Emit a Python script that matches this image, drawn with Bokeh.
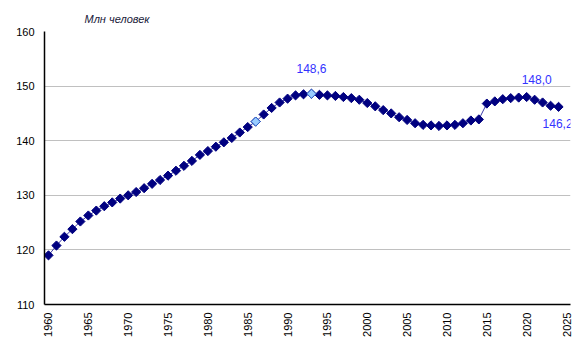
import math
from bokeh.plotting import figure
from bokeh.models import Range1d, FixedTicker, ColumnDataSource
from bokeh.core.properties import value
from bokeh.embed import file_html
from bokeh.resources import INLINE

years = list(range(1960, 2025))
population = [
    119.0, 120.8, 122.4, 123.8, 125.2, 126.3, 127.2, 128.0, 128.7, 129.4,
    130.0, 130.6, 131.3, 132.1, 132.8, 133.6, 134.5, 135.4, 136.3, 137.4,
    138.1, 138.9, 139.7, 140.5, 141.5, 142.5, 143.5, 144.8, 146.0, 147.0,
    147.7, 148.3, 148.5, 148.6, 148.4, 148.3, 148.2, 148.0, 147.8, 147.5,
    146.9, 146.3, 145.6, 145.0, 144.3, 143.8, 143.2, 142.9, 142.8, 142.7,
    142.8, 142.9, 143.2, 143.7, 143.9, 146.8, 147.2, 147.6, 147.8, 147.9,
    148.0, 147.5, 147.0, 146.4, 146.2,
]
highlight_years = [1986, 1993]
label_years = [1993, 2020, 2024]
label_texts = ["148,6", "148,0", "146,2"]
label_dx = [0, 10, -1]
label_dy = [-25, -18, 17]
y_ticks = [110, 120, 130, 140, 150, 160]
x_ticks = list(range(1960, 2030, 5))

FONT = "Liberation Sans"

p = figure(width=575, height=351, output_backend="svg", toolbar_location=None,
           x_range=Range1d(1959.5, 2025.5), y_range=Range1d(110, 160),
           min_border_left=44, min_border_right=5, min_border_top=31,
           min_border_bottom=47)
p.outline_line_color = None
p.background_fill_color = "white"

p.title.text = "Млн человек"
p.title.align = "left"
p.title.offset = 40
p.title.standoff = 13
p.title.text_font = FONT
p.title.text_font_style = "italic"
p.title.text_font_size = "11px"
p.title.text_color = "#1a1a3a"

p.xgrid.grid_line_color = None
p.ygrid.grid_line_color = "#c0c0c0"
p.ygrid.grid_line_width = 1

for ax in (p.xaxis, p.yaxis):
    ax.axis_line_color = "black"
    ax.axis_line_width = 1.5
    ax.major_tick_in = 0
    ax.major_tick_out = 0
    ax.minor_tick_in = 0
    ax.minor_tick_out = 0
    ax.major_label_text_font = FONT
    ax.major_label_text_font_size = "11px"
    ax.major_label_text_color = "black"

p.yaxis.ticker = FixedTicker(ticks=y_ticks)
p.yaxis.major_label_standoff = 10
p.xaxis.ticker = FixedTicker(ticks=x_ticks)
p.xaxis.major_label_orientation = math.pi / 2
p.xaxis.major_label_standoff = 8

src = ColumnDataSource(dict(x=years, y=population))
p.line("x", "y", source=src, line_color="#3a3aa8", line_width=1)
p.scatter("x", "y", source=src, marker="square", angle=math.pi / 4, size=6.5,
          fill_color="#000080", line_color="#000080", line_width=1)

hx = highlight_years
hy = [population[years.index(yr)] for yr in hx]
p.scatter(hx, hy, marker="square", angle=math.pi / 4, size=6.5,
          fill_color="#99ccff", line_color="#3366cc", line_width=1)

for yr, t, dx, dy in zip(label_years, label_texts, label_dx, label_dy):
    p.text([yr], [population[years.index(yr)]], text=[t], x_offset=dx, y_offset=dy,
           text_align="center", text_baseline="middle",
           text_font=value(FONT), text_font_size="12px", text_color="#3333ff")

open("out.html", "w").write(file_html(p, INLINE))
